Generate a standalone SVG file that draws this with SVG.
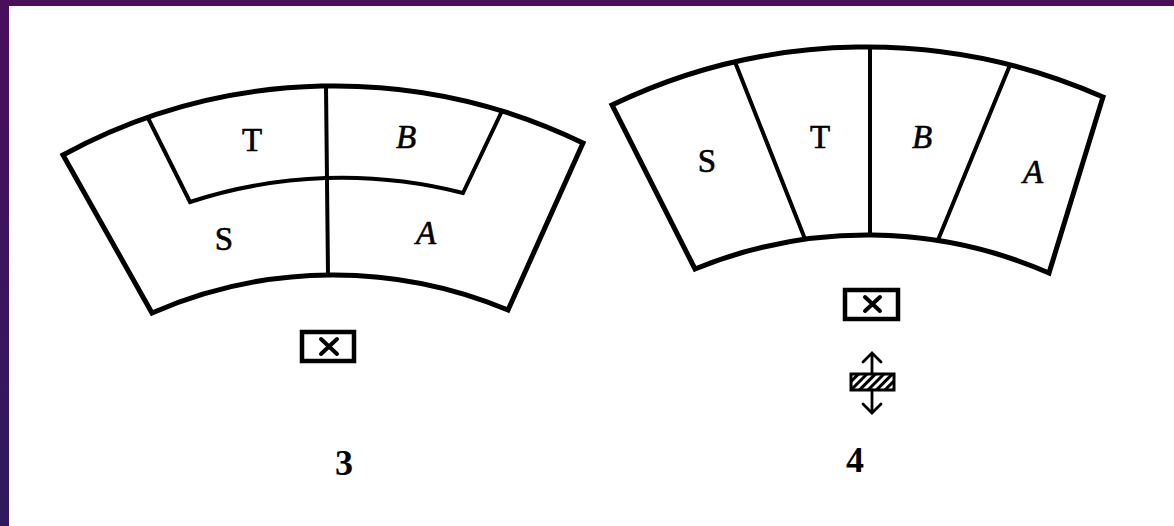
<svg xmlns="http://www.w3.org/2000/svg" width="1174" height="526" viewBox="0 0 1174 526">
  <defs>
    <linearGradient id="frame" x1="0" y1="0" x2="0" y2="1">
      <stop offset="0" stop-color="#4a0f5a"/>
      <stop offset="1" stop-color="#2e1a5c"/>
    </linearGradient>
    <pattern id="hatch" patternUnits="userSpaceOnUse" width="6" height="6" patternTransform="rotate(45)">
      <rect width="6" height="6" fill="#fff"/>
      <rect width="3" height="6" fill="#000"/>
    </pattern>
    <style>
      .ln { fill: none; stroke: #000; stroke-linejoin: miter; stroke-linecap: round; }
      .outer { stroke-width: 5; }
      .div { stroke-width: 4; }
      .lbl { font-family: "Liberation Serif", "DejaVu Serif", serif; font-size: 33px; fill: #000; text-anchor: middle; stroke: #000; stroke-width: 0.6; }
      .it { font-style: italic; }
      .num { font-family: "Liberation Serif", "DejaVu Serif", serif; font-size: 36px; font-weight: bold; fill: #000; text-anchor: middle; }
      .arr { fill: none; stroke: #000; stroke-width: 2.8; stroke-linecap: round; stroke-linejoin: miter; }
    </style>
  </defs>

  <rect x="0" y="0" width="1174" height="526" fill="url(#frame)"/>
  <rect x="9" y="6" width="1165" height="520" fill="#fff"/>

  <g id="figure3">
    <g id="fig3-outline">
      <path class="ln outer" d="M63,155 A569,569 0 0 1 583,143 L508,310 A452,452 0 0 0 152,313 Z"/>
    </g>
    <g id="fig3-dividers">
      <path class="ln div" d="M148,118 L190,202 A489,489 0 0 1 463,193 L502,111"/>
      <path class="ln div" d="M326,86 L328,275"/>
    </g>
    <g id="fig3-T"><text class="lbl" x="252" y="151">T</text></g>
    <g id="fig3-B"><text class="lbl it" x="406" y="148">B</text></g>
    <g id="fig3-S"><text class="lbl" x="224" y="250">S</text></g>
    <g id="fig3-A"><text class="lbl it" x="426" y="244">A</text></g>
    <g id="fig3-box">
      <rect x="302" y="332" width="52" height="29" fill="none" stroke="#000" stroke-width="4.5"/>
      <path class="ln" stroke-width="4" d="M321,339 L337,354 M337,339 L321,354"/>
    </g>
    <g id="fig3-number"><text class="num" x="344" y="475">3</text></g>
  </g>

  <g id="figure4">
    <g id="fig4-outline">
      <path class="ln outer" d="M612,105 A586,586 0 0 1 1103,97 L1049,273 A454,454 0 0 0 695,269 Z"/>
    </g>
    <g id="fig4-dividers">
      <path class="ln div" d="M735,62 L805,239"/>
      <path class="ln div" d="M870,47 L870,235"/>
      <path class="ln div" d="M1010,65 L938,240"/>
    </g>
    <g id="fig4-S"><text class="lbl" x="707" y="172">S</text></g>
    <g id="fig4-T"><text class="lbl" x="820" y="148">T</text></g>
    <g id="fig4-B"><text class="lbl it" x="922" y="148">B</text></g>
    <g id="fig4-A"><text class="lbl it" x="1033" y="183">A</text></g>
    <g id="fig4-box">
      <rect x="845" y="290" width="53" height="29" fill="none" stroke="#000" stroke-width="4.5"/>
      <path class="ln" stroke-width="4" d="M865,297 L880,311 M880,297 L865,311"/>
    </g>
    <g id="fig4-hatched">
      <rect x="851" y="374" width="43" height="16" fill="url(#hatch)" stroke="#000" stroke-width="3"/>
    </g>
    <g id="connectors">
      <path class="arr" d="M872,374 L872,354 M863,362 L872,353 L881,362"/>
      <path class="arr" d="M872,390 L872,412 M863,404 L872,413 L881,404"/>
    </g>
    <g id="fig4-number"><text class="num" x="855" y="472">4</text></g>
  </g>
</svg>
